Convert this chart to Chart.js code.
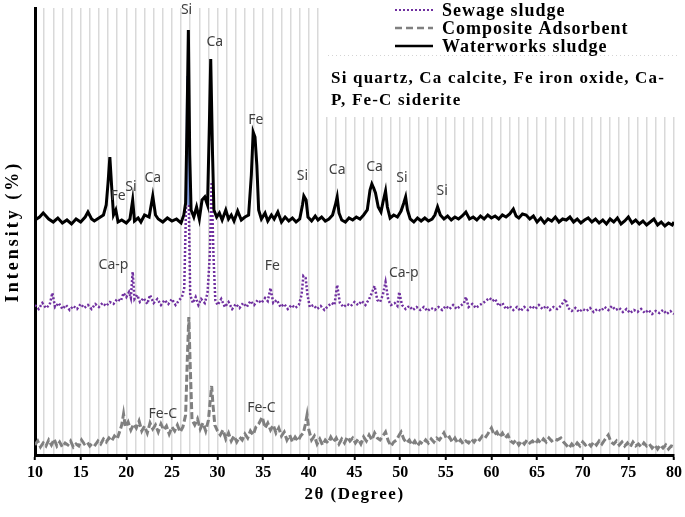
<!DOCTYPE html>
<html>
<head>
<meta charset="utf-8">
<script src="https://cdn.jsdelivr.net/npm/chart.js@4.4.0/dist/chart.umd.min.js"></script>
<style>
  html, body { margin: 0; padding: 0; background: #fff; }
  #wrap { width: 685px; height: 517px; }
</style>
</head>
<body>
<div id="wrap"><canvas id="xrd" width="685" height="517"></canvas></div>
<script>
// [2θ, intensity]
const waterworks = [
  [10,235],[10.5,238],[10.9,242],[11.5,236],[12,233],[12.5,237],[13,232],[13.5,235],[14,231],[14.5,236],
  [15,233],[15.5,238],[15.8,243],[16.2,236],[16.5,234],[17,237],[17.5,240],[17.8,250],[18,272],[18.2,298],
  [18.4,268],[18.6,240],[18.85,245],[19.1,233],[19.5,235],[20,232],[20.4,236],[20.7,255],[20.9,234],[21.3,237],
  [21.6,233],[22,240],[22.5,238],[22.9,259],[23.2,240],[23.5,236],[24,233],[24.5,237],[25,234],[25.5,236],
  [26,232],[26.3,240],[26.5,252],[26.65,330],[26.8,425],[26.95,300],[27.1,245],[27.4,238],[27.7,248],[28,236],
  [28.3,255],[28.6,258],[28.9,250],[29.1,330],[29.25,396],[29.45,300],[29.6,245],[29.9,238],[30.2,242],[30.5,235],
  [30.9,245],[31.2,236],[31.5,240],[31.8,234],[32.2,244],[32.6,235],[33,238],[33.4,240],[33.7,280],[33.9,323],
  [34.1,318],[34.3,290],[34.5,245],[34.8,236],[35.2,242],[35.5,234],[35.9,240],[36.2,236],[36.6,243],[37,233],
  [37.4,238],[37.8,234],[38.2,237],[38.6,233],[39,236],[39.3,250],[39.45,259],[39.7,255],[39.9,238],[40.3,234],
  [40.7,239],[41,235],[41.4,238],[41.8,234],[42.2,236],[42.6,240],[42.9,250],[43.1,258],[43.3,242],[43.6,235],
  [44,233],[44.4,237],[44.8,235],[45.2,238],[45.6,236],[46,240],[46.4,245],[46.7,265],[46.9,271],[47.1,267],
  [47.3,262],[47.6,248],[47.9,243],[48.1,252],[48.4,264],[48.6,248],[48.9,237],[49.3,240],[49.7,238],[50.1,244],
  [50.4,252],[50.6,258],[50.8,245],[51.1,236],[51.5,233],[51.9,237],[52.3,234],[52.7,237],[53.1,234],[53.5,236],
  [53.8,240],[54.1,248],[54.4,240],[54.8,236],[55.2,239],[55.6,235],[56,238],[56.4,236],[56.8,239],[57.2,243],
  [57.6,236],[58,238],[58.4,235],[58.8,239],[59.2,236],[59.6,240],[60,237],[60.4,239],[60.8,236],[61.2,240],
  [61.6,238],[62,241],[62.4,246],[62.7,239],[63,237],[63.4,241],[63.8,240],[64.2,236],[64.6,239],[65,233],
  [65.4,237],[65.8,232],[66.2,236],[66.6,234],[67,238],[67.4,233],[67.8,236],[68.2,235],[68.6,238],[69,233],
  [69.4,236],[69.8,232],[70.2,235],[70.6,237],[71,233],[71.4,236],[71.8,232],[72.2,235],[72.6,231],[73,236],
  [73.4,233],[73.8,237],[74.2,231],[74.6,234],[75,238],[75.4,232],[75.8,235],[76.2,231],[76.6,234],[77,230],
  [77.4,233],[77.8,236],[78.2,230],[78.6,233],[79,229],[79.4,232],[79.8,230],[80,233]
];

const sewage = [
  [10,150],[10.4,146],[10.8,152],[11.2,147],[11.6,150],[11.9,162],[12.2,148],[12.6,152],[13,146],[13.4,150],
  [13.8,145],[14.2,149],[14.6,146],[15,151],[15.4,147],[15.8,150],[16.2,146],[16.6,151],[17,148],[17.4,152],
  [17.8,149],[18.2,153],[18.6,151],[19,156],[19.4,154],[19.7,162],[20,158],[20.3,163],[20.5,157],[20.7,183],
  [20.9,156],[21.2,160],[21.5,153],[21.9,157],[22.3,151],[22.6,160],[23,152],[23.4,156],[23.8,150],[24.2,155],
  [24.6,151],[25,156],[25.4,150],[25.8,155],[26.1,158],[26.35,167],[26.55,250],[26.7,379],[26.85,250],[27,160],
  [27.3,152],[27.6,158],[27.9,150],[28.2,156],[28.6,152],[28.9,162],[29.15,200],[29.35,273],[29.55,200],[29.75,155],
  [30,150],[30.4,156],[30.8,148],[31.2,153],[31.6,146],[32,151],[32.4,147],[32.8,152],[33.2,148],[33.6,154],
  [34,150],[34.4,155],[34.8,152],[35.2,157],[35.5,154],[35.8,167],[36.1,152],[36.5,155],[36.9,148],[37.3,151],
  [37.7,146],[38.1,150],[38.5,147],[38.9,150],[39.2,160],[39.4,179],[39.65,177],[39.85,160],[40.1,148],[40.5,150],
  [40.9,146],[41.3,149],[41.7,145],[42.1,149],[42.5,152],[42.8,150],[43.1,170],[43.4,152],[43.8,148],[44.2,151],
  [44.6,149],[45,153],[45.4,150],[45.8,154],[46.2,150],[46.6,156],[46.9,162],[47.2,169],[47.5,155],[47.8,153],
  [48.1,160],[48.4,173],[48.7,155],[49,150],[49.4,152],[49.7,149],[49.9,163],[50.2,150],[50.6,146],[51,149],
  [51.4,145],[51.8,148],[52.2,145],[52.6,148],[53,144],[53.4,147],[53.8,145],[54.2,148],[54.6,145],[55,149],
  [55.4,146],[55.8,150],[56.2,146],[56.6,149],[57,152],[57.2,158],[57.5,148],[57.9,151],[58.3,147],[58.7,150],
  [59.1,152],[59.5,155],[59.8,157],[60.1,154],[60.4,156],[60.8,149],[61.2,152],[61.6,146],[62,149],[62.4,145],
  [62.8,148],[63.2,144],[63.6,148],[64,145],[64.4,149],[64.8,146],[65.2,150],[65.6,146],[66,149],[66.4,145],
  [66.8,148],[67.2,146],[67.6,149],[68.1,156],[68.4,147],[68.8,144],[69.2,147],[69.6,143],[70,146],[70.4,144],
  [70.8,147],[71.2,143],[71.6,146],[72,144],[72.4,148],[72.8,145],[73.2,149],[73.6,145],[74,147],[74.4,143],
  [74.8,146],[75.2,142],[75.6,145],[76,143],[76.4,146],[76.8,142],[77.2,145],[77.6,141],[78,144],[78.4,142],
  [78.8,145],[79.2,141],[79.6,144],[80,141]
];

const composite = [
  [10,10],[10.3,14],[10.6,8],[10.9,12],[11.2,9],[11.5,15],[11.8,10],[12.1,16],[12.4,9],[12.7,13],
  [13,8],[13.3,12],[13.6,10],[13.9,14],[14.2,8],[14.5,11],[14.8,9],[15.1,15],[15.4,11],[15.7,13],
  [16,9],[16.3,12],[16.6,10],[16.9,14],[17.2,11],[17.5,16],[17.8,13],[18.1,17],[18.4,14],[18.7,19],
  [19,16],[19.3,24],[19.5,30],[19.7,41],[19.9,28],[20.2,33],[20.5,25],[20.8,31],[21.1,27],[21.4,34],
  [21.7,24],[22,29],[22.3,22],[22.6,32],[22.9,26],[23.2,30],[23.5,23],[23.8,31],[24.1,25],[24.4,29],
  [24.7,21],[25,28],[25.3,24],[25.6,30],[25.9,23],[26.2,28],[26.5,40],[26.7,100],[26.85,138],[27,90],
  [27.2,35],[27.5,30],[27.8,36],[28.1,26],[28.4,32],[28.7,24],[29,35],[29.2,55],[29.35,69],[29.5,50],
  [29.7,30],[30,24],[30.3,20],[30.6,25],[30.9,16],[31.2,22],[31.5,14],[31.8,19],[32.1,13],[32.4,18],
  [32.7,15],[33,21],[33.3,17],[33.6,24],[33.9,20],[34.2,28],[34.5,31],[34.9,38],[35.2,27],[35.5,32],
  [35.8,25],[36.1,30],[36.4,22],[36.7,27],[37,19],[37.3,23],[37.6,15],[37.9,20],[38.2,13],[38.5,18],
  [38.8,14],[39.1,19],[39.4,22],[39.6,30],[39.8,40],[40,25],[40.3,15],[40.6,19],[40.9,11],[41.2,16],
  [41.5,10],[41.8,15],[42.1,12],[42.4,18],[42.7,13],[43,17],[43.3,11],[43.6,16],[43.9,12],[44.2,18],
  [44.5,14],[44.8,17],[45.1,12],[45.4,16],[45.7,11],[46,18],[46.3,14],[46.6,20],[46.9,15],[47.2,22],
  [47.5,17],[47.8,15],[48.1,19],[48.4,23],[48.7,14],[49,9],[49.3,13],[49.6,15],[49.9,20],[50.1,23],
  [50.4,16],[50.7,12],[51,15],[51.3,10],[51.6,14],[51.9,9],[52.2,13],[52.5,11],[52.8,15],[53.1,12],
  [53.4,16],[53.7,13],[54,17],[54.3,15],[54.6,19],[54.8,22],[55.1,16],[55.4,18],[55.7,13],[56,17],
  [56.3,12],[56.6,15],[56.9,11],[57.2,14],[57.5,12],[57.8,16],[58.1,13],[58.4,17],[58.7,15],[59,19],
  [59.3,17],[59.6,21],[59.8,24],[60,27],[60.3,20],[60.6,23],[60.9,18],[61.2,22],[61.5,17],[61.8,20],
  [62.1,14],[62.4,12],[62.7,15],[63,10],[63.3,14],[63.6,11],[63.9,15],[64.2,12],[64.5,14],[64.8,11],
  [65.1,15],[65.4,12],[65.7,16],[66,13],[66.3,17],[66.6,14],[66.9,16],[67.2,15],[67.6,17],[67.9,13],
  [68.2,10],[68.5,7],[68.8,11],[69.1,8],[69.4,12],[69.7,9],[70,13],[70.3,10],[70.6,12],[70.9,9],
  [71.2,13],[71.5,10],[71.8,14],[72.1,11],[72.4,15],[72.8,20],[73.1,13],[73.4,11],[73.7,14],[74,10],
  [74.3,13],[74.6,9],[74.9,12],[75.2,8],[75.5,13],[75.8,9],[76.1,11],[76.4,8],[76.7,12],[77,9],
  [77.3,11],[77.6,7],[77.9,10],[78.2,6],[78.5,10],[78.8,7],[79.1,10],[79.4,6],[79.7,9],[80,8]
];

// phase labels: [text, 2θ, intensity]
const peakLabels = [
  ['Si', 26.6, 445], ['Ca', 29.7, 413], ['Fe', 34.2, 335],
  ['Fe', 19.1, 259], ['Si', 20.5, 268], ['Ca', 22.9, 277],
  ['Si', 39.3, 279], ['Ca', 43.1, 285], ['Ca', 47.2, 288], ['Si', 50.2, 277], ['Si', 54.6, 264],
  ['Ca-p', 18.6, 190], ['Fe', 36.0, 189], ['Ca-p', 50.4, 182],
  ['Fe-C', 24.0, 41], ['Fe-C', 34.8, 47]
];

const seriesNames = ['Sewage sludge', 'Composite Adsorbent', 'Waterworks sludge'];
const noteLines = ['Si quartz, Ca calcite, Fe iron oxide, Ca-', 'P, Fe-C siderite'];
const xTitle = '2θ (Degree)';
const yTitle = 'Intensity (%)';

const serif = '"Liberation Serif", "Times New Roman", serif';
const toXY = arr => arr.map(p => ({ x: p[0], y: p[1] }));

const overlay = {
  id: 'overlay',
  beforeDatasetsDraw(chart) {
    const c = chart.ctx;
    c.save();
    // white box behind legend and note hides the grid there
    c.fillStyle = '#fff';
    c.fillRect(325, 0, 360, 117);
    c.strokeStyle = '#d4d4d4';
    c.lineWidth = 1;
    c.setLineDash([1, 3]);
    c.beginPath(); c.moveTo(328, 55.5); c.lineTo(680, 55.5); c.stroke();
    c.restore();
  },
  afterDatasetsDraw(chart) {
    const c = chart.ctx;
    const xs = chart.scales.x, ys = chart.scales.y;
    const area = chart.chartArea;
    c.save();
    c.fillStyle = '#404040';
    c.font = '14px "Noto Sans", "Open Sans", sans-serif';
    c.textAlign = 'center';
    c.textBaseline = 'middle';
    peakLabels.forEach(([t, a, v]) => c.fillText(t, xs.getPixelForValue(a), ys.getPixelForValue(v)));

    // legend
    const styles = [
      { color: '#7030A0', dash: [2, 2], w: 2 },
      { color: '#808080', dash: [7, 4], w: 2.5 },
      { color: '#000', dash: [], w: 2.5 }
    ];
    const rowY = [10, 28, 46];
    c.font = 'bold 18px ' + serif;
    c.letterSpacing = '1px';
    c.textAlign = 'left';
    seriesNames.forEach((name, i) => {
      c.strokeStyle = styles[i].color;
      c.lineWidth = styles[i].w;
      c.setLineDash(styles[i].dash);
      c.beginPath(); c.moveTo(395, rowY[i]); c.lineTo(433, rowY[i]); c.stroke();
      c.fillStyle = '#000';
      c.fillText(name, 442, rowY[i] + 1);
    });
    c.setLineDash([]);

    // note
    c.font = 'bold 17px ' + serif;
    c.letterSpacing = '1.2px';
    c.fillText(noteLines[0], 331, 79);
    c.fillText(noteLines[1], 331, 101);

    // axis titles
    c.textAlign = 'center';
    c.font = 'bold 17px ' + serif;
    c.letterSpacing = '1.5px';
    c.fillText(xTitle, (area.left + area.right) / 2, 495);
    c.translate(13, (area.top + area.bottom) / 2);
    c.rotate(-Math.PI / 2);
    c.font = 'bold 18px ' + serif;
    c.letterSpacing = '3px';
    c.fillText(yTitle, 0, 0);
    c.restore();
  }
};

new Chart(document.getElementById('xrd'), {
  type: 'line',
  data: {
    datasets: [
      {
        label: seriesNames[2],
        data: toXY(waterworks),
        borderColor: '#000',
        borderWidth: 3,
        pointRadius: 0,
        tension: 0
      },
      {
        label: seriesNames[0],
        data: toXY(sewage),
        borderColor: '#7030A0',
        borderWidth: 2.5,
        borderDash: [2, 2],
        pointRadius: 0,
        tension: 0,
        segment: {
          borderColor: s => (s.p0.parsed.y > 300 || s.p1.parsed.y > 300) ? '#7b96dc' : undefined,
          borderDash: s => (s.p0.parsed.y > 300 || s.p1.parsed.y > 300) ? [] : undefined
        }
      },
      {
        label: seriesNames[1],
        data: toXY(composite),
        borderColor: '#808080',
        borderWidth: 3,
        borderDash: [7, 3],
        pointRadius: 0,
        tension: 0
      }
    ]
  },
  options: {
    responsive: false,
    animation: false,
    layout: { padding: { top: 8, right: 9, left: 0, bottom: 0 } },
    plugins: { legend: { display: false }, tooltip: { enabled: false } },
    scales: {
      x: {
        type: 'linear',
        min: 10,
        max: 80,
        afterFit: s => { s.height = 62; },
        border: { color: '#000', width: 3 },
        grid: {
          color: '#d9d9d9',
          lineWidth: 1.5,
          tickLength: 5,
          tickColor: ctx => ctx.tick && ctx.tick.value % 5 === 0 ? '#000' : 'rgba(0,0,0,0)',
          tickWidth: 2
        },
        ticks: {
          stepSize: 1,
          autoSkip: false,
          maxRotation: 0,
          padding: 3,
          color: '#000',
          font: { family: serif, size: 16, weight: 'bold' },
          callback: v => (v % 5 === 0 ? v : '')
        },
        title: { display: false }
      },
      y: {
        min: 0,
        max: 447,
        afterFit: s => { s.width = 35; },
        border: { color: '#000', width: 3 },
        grid: { display: false },
        ticks: { display: false },
        title: { display: false }
      }
    }
  },
  plugins: [overlay]
});
</script>
</body>
</html>
